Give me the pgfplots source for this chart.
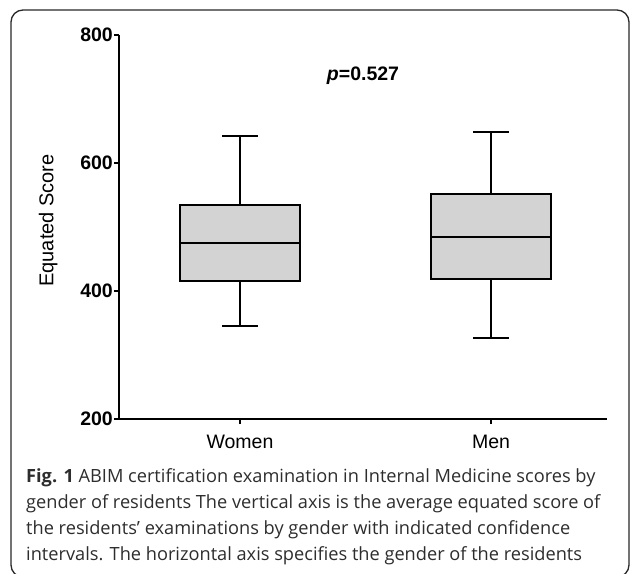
\documentclass[border=0pt]{standalone}
\usepackage{pgfplots}
\pgfplotsset{compat=1.18}
\usepackage{fontspec}
\setmainfont{Liberation Sans}
\newfontfamily\capfont{Open Sans}
\definecolor{boxgray}{RGB}{211,211,211}
\definecolor{framegray}{RGB}{40,40,40}
\definecolor{captext}{RGB}{45,45,45}
\begin{document}
\begin{tikzpicture}
\useasboundingbox (0pt,0pt) rectangle (631pt,573pt);
\draw[framegray,line width=1.3pt,rounded corners=12pt] (11pt,-4pt) rectangle (629pt,563pt);
\begin{axis}[
  at={(119pt,154pt)}, anchor=south west,
  scale only axis, width=488pt, height=384pt,
  xmin=-0.482, xmax=1.462, ymin=200, ymax=800,
  axis x line*=bottom, axis y line*=left,
  axis line style={line width=2pt,-},
  xtick={0,1}, xticklabels={Women,Men},
  ytick={200,400,600,800},
  tick align=outside, major tick length=5pt,
  every tick/.style={black,line width=2pt},
  /pgf/number format/assume math mode=true,
  yticklabel style={font=\bfseries\fontsize{19.5}{22}\selectfont, inner sep=1pt},
  xticklabel style={font=\fontsize{19.5}{22}\selectfont, yshift=-8pt},
  ylabel={Equated Score},
  every axis y label/.append style={at={(axis description cs:-0.145,0.517)}, anchor=center, font=\fontsize{20}{22}\selectfont},
  clip=false,
]
% Women
\addplot[draw=black, fill=boxgray, line width=2pt, line join=miter] coordinates {(-0.24,416) (0.24,416) (0.24,534) (-0.24,534)} -- cycle;
\addplot[black, line width=2pt] coordinates {(-0.24,475) (0.24,475)};
\addplot[black, line width=2pt] coordinates {(0,534) (0,642)};
\addplot[black, line width=2pt] coordinates {(-0.07,642) (0.07,642)};
\addplot[black, line width=2pt] coordinates {(0,416) (0,345)};
\addplot[black, line width=2pt] coordinates {(-0.07,345) (0.07,345)};
% Men
\addplot[draw=black, fill=boxgray, line width=2pt, line join=miter] coordinates {(0.76,419) (1.24,419) (1.24,551) (0.76,551)} -- cycle;
\addplot[black, line width=2pt] coordinates {(0.76,484) (1.24,484)};
\addplot[black, line width=2pt] coordinates {(1,551) (1,649)};
\addplot[black, line width=2pt] coordinates {(0.93,649) (1.07,649)};
\addplot[black, line width=2pt] coordinates {(1,419) (1,326)};
\addplot[black, line width=2pt] coordinates {(0.93,326) (1.07,326)};
\node[font=\bfseries\fontsize{19.5}{22}\selectfont] at (axis cs:0.49,737) {\textit{p}=0.527};
\end{axis}
\begin{scope}[every node/.style={anchor=base west, inner sep=0pt, font=\capfont\fontsize{18.2}{26}\selectfont, text=captext}]
\node at (26pt,91pt) {{\bfseries Fig. 1} ABIM certification examination in Internal Medicine scores by};
\node at (26pt,65pt) {gender of residents The vertical axis is the average equated score of};
\node at (26pt,39pt) {the residents’ examinations by gender with indicated confidence};
\node at (26pt,13pt) {intervals. The horizontal axis specifies the gender of the residents};
\end{scope}
\end{tikzpicture}
\end{document}
